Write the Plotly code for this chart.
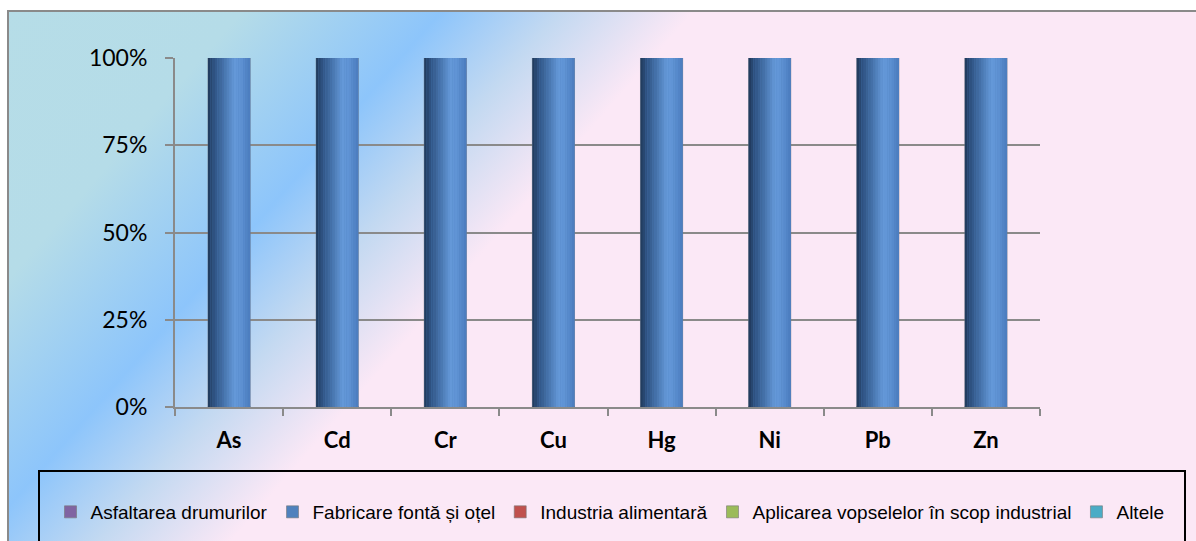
import base64
import plotly.graph_objects as go

# ---------------- data ----------------
categories = ["As", "Cd", "Cr", "Cu", "Hg", "Ni", "Pb", "Zn"]
asfaltarea = [0, 0, 0, 0, 0, 0, 0, 0]
fabricare = [100, 100, 100, 100, 100, 100, 100, 100]
industria = [0, 0, 0, 0, 0, 0, 0, 0]
aplicarea = [0, 0, 0, 0, 0, 0, 0, 0]
altele = [0, 0, 0, 0, 0, 0, 0, 0]
series_names = ["Asfaltarea drumurilor", "Fabricare fontă și oțel", "Industria alimentară",
                "Aplicarea vopselelor în scop industrial", "Altele"]
y_ticks = [0, 25, 50, 75, 100]
y_tick_labels = ["0%", "25%", "50%", "75%", "100%"]

# ---------------- styling ----------------
W, H = 1196, 541
ML, MR, MT, MB = 8, 0, 58, 134          # wide plot region so the legend fits on one row
PW, PH = W - ML - MR, H - MT - MB
AX_L, AX_R = 175, 1040                  # pixel extent of the axes inside that region
series_colors = ["#8064a2", "#4f81bd", "#c0504d", "#9bbb59", "#4bacc6"]
BAR_W = 0.39

def px_x(p):
    return (p - ML) / PW

def px_y(p):
    return (H - MB - p) / PH

def hex2rgb(h):
    h = h.lstrip("#")
    return tuple(int(h[i:i + 2], 16) for i in (0, 2, 4))

cyl_stops = [(0.0, "#1f3858"), (0.15, "#2f5383"), (0.38, "#4673ab"),
             (0.62, "#6599d9"), (0.78, "#5f93d4"), (1.0, "#4a7bbd")]

def cyl_color(t):
    for (p0, c0), (p1, c1) in zip(cyl_stops[:-1], cyl_stops[1:]):
        if p0 <= t <= p1:
            f = (t - p0) / (p1 - p0)
            a, b = hex2rgb(c0), hex2rgb(c1)
            return "rgb(%d,%d,%d)" % tuple(round(a[i] + (b[i] - a[i]) * f) for i in range(3))
    return cyl_stops[-1][1]

fig = go.Figure()

all_series = [asfaltarea, fabricare, industria, aplicarea, altele]
for name, vals, col in zip(series_names, all_series, series_colors):
    fig.add_trace(go.Bar(x=categories, y=vals, name=name, marker_color=col,
                         marker_line=dict(color="rgba(120,120,120,0.6)", width=1),
                         width=BAR_W))

# cylinder-like shading drawn as thin overlaid strips of the main series
N = 18
sw = BAR_W / N
for i in range(N):
    fig.add_trace(go.Bar(x=categories, y=fabricare, showlegend=False, hoverinfo="skip",
                         width=sw * 1.05, offset=-BAR_W / 2 + i * sw,
                         marker=dict(color=cyl_color((i + 0.5) / N), line_width=0)))

# background: diagonal gradient, drawn as an SVG image
svg = f"""<svg xmlns='http://www.w3.org/2000/svg' width='{W}' height='{H}' viewBox='0 0 {W} {H}'>
<defs><linearGradient id='g' gradientUnits='userSpaceOnUse' x1='0' y1='0' x2='753' y2='658'>
<stop offset='0' stop-color='#b6dde7'/>
<stop offset='0.19' stop-color='#b5dce8'/>
<stop offset='0.34' stop-color='#8dc5fb'/>
<stop offset='0.43' stop-color='#c3d9f1'/>
<stop offset='0.53' stop-color='#fbe8f6'/>
<stop offset='1' stop-color='#fbe8f6'/>
</linearGradient></defs>
<rect x='0' y='0' width='{W}' height='{H}' fill='white'/>
<rect x='8' y='11' width='{W + 20}' height='{H + 20}' fill='url(#g)' stroke='#8a8a8a' stroke-width='2'/>
</svg>"""
src = "data:image/svg+xml;base64," + base64.b64encode(svg.encode()).decode()

fig.update_layout(
    width=W, height=H,
    margin=dict(l=ML, r=MR, t=MT, b=MB, pad=0, autoexpand=False),
    barmode="overlay",
    paper_bgcolor="white",
    plot_bgcolor="rgba(0,0,0,0)",
    images=[dict(source=src, xref="paper", yref="paper",
                 x=px_x(0), y=px_y(0), sizex=W / PW, sizey=H / PH,
                 xanchor="left", yanchor="top", sizing="stretch", layer="below")],
    shapes=[dict(type="rect", xref="paper", yref="paper",
                 x0=px_x(39), x1=px_x(1185), y0=px_y(471), y1=px_y(580),
                 line=dict(color="black", width=2), fillcolor="rgba(0,0,0,0)")],
    legend=dict(orientation="h", x=px_x(610), xanchor="center",
                y=px_y(512), yanchor="middle",
                font=dict(family="Liberation Sans, Arial, sans-serif", size=19, color="black"),
                bgcolor="rgba(0,0,0,0)", itemwidth=30, traceorder="normal"),
    xaxis=dict(type="category", domain=[px_x(AX_L), px_x(AX_R)],
               tickson="boundaries", ticks="outside", ticklen=7,
               tickcolor="#8a8a8a", tickwidth=2, showline=True, linecolor="#8a8a8a",
               linewidth=2, showgrid=False,
               tickfont=dict(family="Lato, Carlito, sans-serif", size=22, color="black",
                             weight="bold"),
               ticklabelstandoff=13),
    yaxis=dict(range=[0, 100], tickmode="array", tickvals=y_ticks, ticktext=y_tick_labels,
               ticks="outside",
               ticklen=8, tickcolor="#8a8a8a", tickwidth=2, showline=True,
               linecolor="#8a8a8a", linewidth=2, gridcolor="#8a8a8a", gridwidth=2,
               zeroline=False,
               tickfont=dict(family="Lato, Carlito, sans-serif", size=23, color="black"),
               ticklabelstandoff=13),
)

fig.write_html("out.html", config={"displayModeBar": False},
               post_script="document.body.style.margin='0';document.body.style.overflow='hidden';")
